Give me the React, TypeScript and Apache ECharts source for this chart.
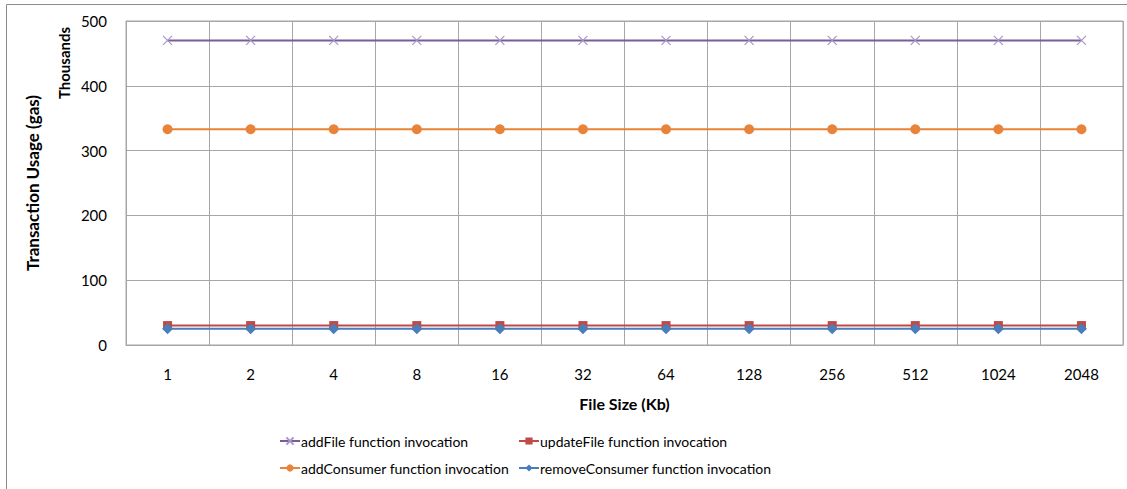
import React, { useEffect, useRef } from "react";
import * as echarts from "echarts";

const categories = ["1", "2", "4", "8", "16", "32", "64", "128", "256", "512", "1024", "2048"];
const addFile = [470, 470, 470, 470, 470, 470, 470, 470, 470, 470, 470, 470];
const updateFile = [30, 30, 30, 30, 30, 30, 30, 30, 30, 30, 30, 30];
const addConsumer = [333, 333, 333, 333, 333, 333, 333, 333, 333, 333, 333, 333];
const removeConsumer = [25, 25, 25, 25, 25, 25, 25, 25, 25, 25, 25, 25];
const yTicks = [0, 100, 200, 300, 400, 500];

const FONT = "Lato, 'Open Sans', sans-serif";

export default function App() {
  const ref = useRef<HTMLDivElement>(null);
  useEffect(() => {
    if (!ref.current) return;
    const chart = echarts.init(ref.current, undefined, { renderer: "svg" });
    const cross = "path://M0,0L10,10M10,0L0,10";
    const mk = (name: string, data: number[], color: string, symbol: string, size: number, extra: any = {}) => ({
      name,
      type: "line",
      data,
      symbol,
      symbolSize: size,
      lineStyle: { color, width: 2 },
      itemStyle: { color },
      ...extra,
    });
    chart.setOption({
      animation: false,
      textStyle: { fontFamily: FONT },
      graphic: [
        {
          type: "rect",
          shape: { x: 6.5, y: 4.5, width: 1130, height: 500 },
          style: { fill: "none", stroke: "#8c8c8c", lineWidth: 1 },
          silent: true,
        },
        {
          type: "text",
          x: 64,
          y: 63,
          rotation: Math.PI / 2,
          style: {
            text: "Thousands",
            fontFamily: "Lato",
            fontSize: 15,
            fontWeight: "bold",
            fill: "#000",
            align: "center",
            verticalAlign: "middle",
          },
        },
      ],
      legend: [
        { left: 274, top: 429, data: [{ name: "addFile function invocation" }] },
        { left: 513, top: 429, data: [{ name: "updateFile function invocation" }] },
        { left: 274, top: 456, data: [{ name: "addConsumer function invocation" }] },
        { left: 513, top: 456, data: [{ name: "removeConsumer function invocation" }] },
      ].map((l) => ({
        ...l,
        itemWidth: 20,
        itemHeight: 9,
        itemGap: 2,
        selectedMode: false,
        textStyle: { fontFamily: FONT, fontSize: 14, color: "#000", padding: [0, 0, 0, -4] },
      })),
      grid: {
        left: 126,
        right: 4,
        top: 21,
        bottom: 144,
        show: true,
        borderColor: "#a6a6a6",
        borderWidth: 1,
      },
      xAxis: {
        type: "category",
        data: categories,
        boundaryGap: true,
        name: "File Size (Kb)",
        nameLocation: "middle",
        nameGap: 50,
        nameTextStyle: { fontFamily: FONT, fontSize: 16, fontWeight: "bold", color: "#000" },
        axisLine: { lineStyle: { color: "#a6a6a6" } },
        axisTick: { show: false },
        axisLabel: { margin: 21, fontSize: 15, color: "#000", fontFamily: FONT },
        splitLine: { show: true, lineStyle: { color: "#a6a6a6", width: 1 } },
      },
      yAxis: {
        type: "value",
        min: yTicks[0],
        max: yTicks[yTicks.length - 1],
        interval: 100,
        name: "Transaction Usage (gas)",
        nameLocation: "middle",
        nameGap: 85,
        nameTextStyle: { fontFamily: FONT, fontSize: 17, fontWeight: "bold", color: "#000" },
        axisLine: { show: true, lineStyle: { color: "#a6a6a6" } },
        axisTick: { show: false },
        axisLabel: { margin: 19, fontSize: 15, color: "#000", fontFamily: FONT },
        splitLine: { show: true, lineStyle: { color: "#a6a6a6", width: 1 } },
      },
      series: [
        mk("addFile function invocation", addFile, "#7a5c9c", cross, 9, {
          itemStyle: { color: "none", borderColor: "#a796c6", borderWidth: 1.2 },
        }),
        mk("updateFile function invocation", updateFile, "#be4b48", "rect", 9),
        mk("addConsumer function invocation", addConsumer, "#e8843a", "circle", 10),
        mk("removeConsumer function invocation", removeConsumer, "#4a7ebb", "diamond", 11),
      ],
    });
    return () => chart.dispose();
  }, []);
  return (
    <div
      ref={ref}
      style={{ position: "absolute", left: 0, top: 0, width: 1127, height: 489, background: "#fff" }}
    />
  );
}
